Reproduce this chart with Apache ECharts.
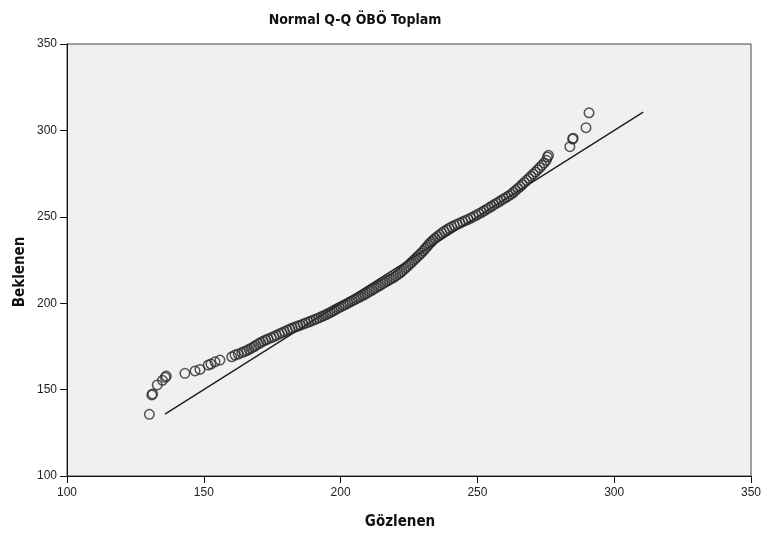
<!DOCTYPE html>
<html>
<head>
<meta charset="utf-8">
<script src="https://cdn.jsdelivr.net/npm/echarts@6/dist/echarts.min.js"></script>
<style>html,body{margin:0;padding:0;background:#fff;}#c{width:765px;height:540px;}</style>
</head>
<body>
<div id="c"></div>
<script>
// Observed values (Gözlenen) and expected normal values (Beklenen)
var observed = [130.1,131.0,131.3,133.0,134.9,135.9,136.3,143.1,146.8,148.6,151.6,152.6,154.1,155.9,160.2,161.4,162.6,163.9,164.8,165.7,166.5,167.4,168.3,169.0,170.0,170.8,171.7,172.6,173.5,174.6,175.6,176.5,177.6,178.6,179.5,180.5,181.5,182.4,183.4,184.4,185.3,186.3,187.3,188.3,189.2,190.2,191.1,192.0,192.9,193.7,194.6,195.4,196.2,197.0,197.8,198.6,199.4,200.2,201.0,201.8,202.6,203.4,204.2,205.0,205.8,206.6,207.4,208.2,209.0,209.8,210.6,211.4,212.2,213.0,213.8,214.6,215.4,216.2,217.0,217.8,218.6,219.4,220.2,221.0,221.8,222.5,223.2,223.9,224.6,225.3,226.0,226.7,227.4,228.1,228.8,229.5,230.2,230.8,231.4,232.0,232.6,233.2,233.9,234.6,235.4,236.2,237.0,237.9,238.8,239.7,240.6,241.6,242.6,243.6,244.6,245.6,246.6,247.6,248.6,249.6,250.6,251.6,252.5,253.4,254.3,255.2,256.1,257.0,257.9,258.8,259.7,260.6,261.5,262.4,263.2,264.0,264.8,265.6,266.4,267.2,268.0,268.8,269.6,270.4,271.2,272.0,272.8,273.6,274.4,275.2,275.6,276.0,283.8,284.8,285.0,289.7,290.8];
var expected = [135.7,146.9,147.5,152.7,155.4,157.1,157.8,159.4,160.8,161.7,164.2,164.8,166.1,167.1,169.0,170.0,170.6,171.4,172.0,172.5,173.3,174.0,174.8,175.6,176.5,177.2,178.0,178.7,179.3,180.0,180.7,181.4,182.2,182.9,183.6,184.3,185.0,185.6,186.2,186.8,187.3,187.9,188.5,189.1,189.7,190.3,190.9,191.5,192.1,192.7,193.3,194.0,194.6,195.3,196.0,196.7,197.4,198.0,198.7,199.3,200.0,200.7,201.3,202.0,202.6,203.3,203.9,204.6,205.3,206.0,206.8,207.5,208.3,209.0,209.8,210.5,211.3,212.0,212.8,213.5,214.2,215.0,215.8,216.7,217.6,218.6,219.6,220.6,221.6,222.7,223.7,224.8,225.8,226.9,228.0,229.1,230.2,231.3,232.4,233.5,234.6,235.6,236.6,237.6,238.6,239.6,240.6,241.6,242.5,243.4,244.2,245.0,245.7,246.4,247.1,247.8,248.5,249.3,250.1,250.9,251.8,252.6,253.5,254.4,255.2,256.1,257.0,257.9,258.7,259.6,260.5,261.3,262.2,263.1,264.2,265.3,266.4,267.5,268.7,269.9,271.1,272.3,273.5,274.7,275.9,277.2,278.5,279.8,281.2,282.7,284.6,285.6,290.6,295.0,295.5,301.6,310.2];
// Reference line (y = x) end points
var refLineX = [135.8, 310.6];
var refLineY = [135.8, 310.6];
var axisTicks = [100, 150, 200, 250, 300, 350];

var chart = echarts.init(document.getElementById('c'), null, {renderer: 'canvas'});
var pts = observed.map(function (v, i) { return [v, expected[i]]; });
var linePts = refLineX.map(function (v, i) { return [v, refLineY[i]]; });
var lblFont = "'Liberation Sans', Arial, sans-serif";
var boldFont = "'Liberation Sans Narrow', 'Arial Narrow', 'DejaVu Sans Condensed', sans-serif";

chart.setOption({
  animation: false,
  backgroundColor: '#ffffff',
  title: {
    text: 'Normal Q-Q ÖBÖ Toplam',
    left: 350, top: 8, textAlign: 'center',
    textStyle: {fontFamily: boldFont, fontWeight: 'bold', fontSize: 14, color: '#111'}
  },
  grid: {
    left: 67, right: 14, top: 44, bottom: 64,
    show: true, backgroundColor: '#f0f0f0', borderColor: '#444', borderWidth: 1
  },
  xAxis: {
    type: 'value', min: axisTicks[0], max: axisTicks[axisTicks.length - 1], interval: 50,
    axisLine: {show: true, onZero: false, lineStyle: {color: '#111', width: 1}},
    axisTick: {show: true, length: 7, lineStyle: {color: '#111'}},
    axisLabel: {margin: 11, fontFamily: lblFont, fontSize: 12, color: '#222'},
    splitLine: {show: false}
  },
  yAxis: {
    type: 'value', min: axisTicks[0], max: axisTicks[axisTicks.length - 1], interval: 50,
    axisLine: {show: true, onZero: false, lineStyle: {color: '#111', width: 1}},
    axisTick: {show: true, length: 7, lineStyle: {color: '#111'}},
    axisLabel: {margin: 10, fontFamily: lblFont, fontSize: 12, color: '#222'},
    splitLine: {show: false}
  },
  graphic: [
    {type: 'text', x: 400, y: 522, style: {text: 'Gözlenen', textAlign: 'center', textVerticalAlign: 'middle', font: 'bold 15px ' + boldFont, fill: '#111'}},
    {type: 'text', x: 20, y: 272, rotation: Math.PI / 2, style: {text: 'Beklenen', textAlign: 'center', textVerticalAlign: 'middle', font: 'bold 15px ' + boldFont, fill: '#111'}}
  ],
  series: [
    {
      type: 'line', data: linePts, symbol: 'none', silent: true,
      lineStyle: {color: '#1a1a1a', width: 1.3}, z: 2
    },
    {
      type: 'scatter', data: pts, symbol: 'circle', symbolSize: 9.5,
      itemStyle: {color: 'rgba(0,0,0,0)', borderColor: '#2a2a2a', borderWidth: 1.5}, z: 3
    }
  ]
});
</script>
</body>
</html>
